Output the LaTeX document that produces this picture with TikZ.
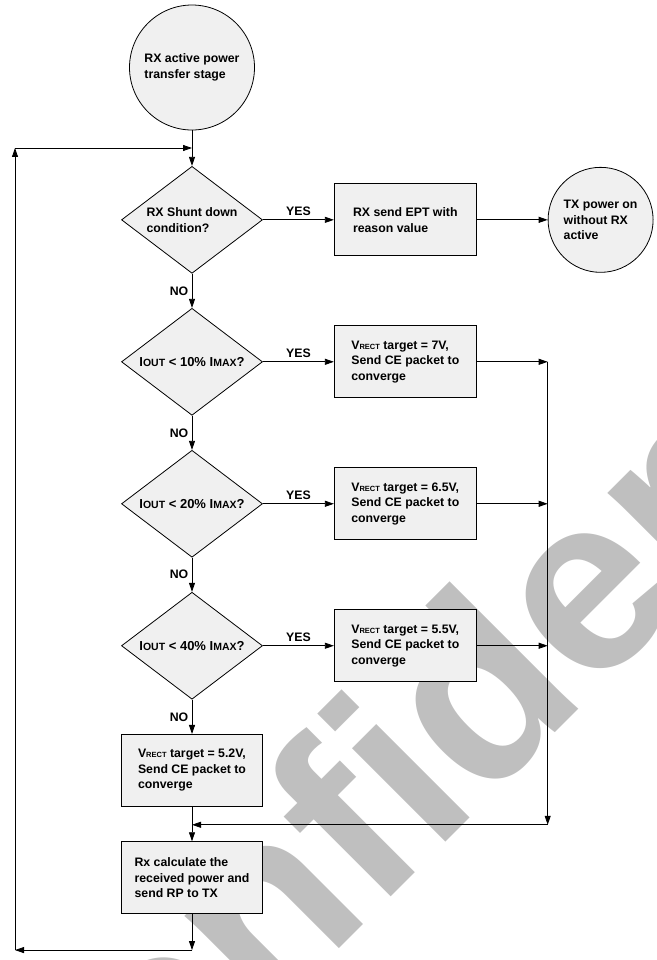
\documentclass[tikz,border=0pt]{standalone}
\usepackage{fontspec}
\setmainfont{Liberation Sans}
\usetikzlibrary{shapes.geometric,arrows.meta}
\newcommand\subcap[1]{{\fontsize{10.5}{10.5}\selectfont #1}}
\newcommand\tinycap[1]{{\fontsize{7.5}{7.5}\selectfont #1}}

\begin{document}
\begin{tikzpicture}[x=1pt, y=-1pt, line width=0.8pt, >={Triangle[length=9pt,width=6pt]},
  every node/.style={font=\bfseries\fontsize{12.3}{15.6}\selectfont},
  dec/.style={draw, fill=black!6, diamond, aspect=1.32, inner sep=0pt, minimum width=141pt, minimum height=107pt, align=left},
  cmp/.style={dec, font=\bfseries\fontsize{13}{15.6}\selectfont},
  blk/.style={draw, fill=black!6, minimum width=142pt, minimum height=72pt, inner sep=0pt, align=left},
  term/.style={draw, fill=black!6, circle, inner sep=0pt, align=left}]
\useasboundingbox (0,0) rectangle (656,960);
\begin{scope}
\clip (0,0) rectangle (656,960);
\node[rotate=45, anchor=base west, inner sep=0pt, text=black!25, font=\bfseries\fontsize{250}{250}\selectfont] (wm) at (31,1257) {Confidential};
\end{scope}
\matrix (m) [matrix anchor=start.center, row sep=34.5pt, column sep=71pt] at (192,67.5) {
  \node[term, minimum size=125pt] (start) {RX active power\\transfer stage}; & & \\[1.2pt]
  \node[dec] (d1) {RX Shunt down\\condition?}; & \node[blk] (ept) {RX send EPT with\\reason value}; & \node[term, minimum size=105pt] (txon) {TX power on\\without RX\\active}; \\
  \node[cmp] (d2) {I\subcap{OUT} < 10\% I\subcap{MAX}?}; & \node[blk] (b1) {V\tinycap{RECT} target = 7V,\\Send CE packet to\\converge}; & \\
  \node[cmp] (d3) {I\subcap{OUT} < 20\% I\subcap{MAX}?}; & \node[blk] (b2) {V\tinycap{RECT} target = 6.5V,\\Send CE packet to\\converge}; & \\
  \node[cmp] (d4) {I\subcap{OUT} < 40\% I\subcap{MAX}?}; & \node[blk] (b3) {V\tinycap{RECT} target = 5.5V,\\Send CE packet to\\converge}; & \\
  \node[blk, minimum width=141pt] (b4) {V\tinycap{RECT} target = 5.2V,\\Send CE packet to\\converge}; & & \\
  \node[blk, minimum width=141pt] (rp) {Rx calculate the\\received power and\\send RP to TX}; & & \\
};
\coordinate (r1) at (b1 -| txon.west);
\coordinate (r2) at (b2 -| txon.west);
\coordinate (r3) at (b3 -| txon.west);
\coordinate (jn) at ([yshift=-18pt]b4.south);
\coordinate (rb) at (jn -| txon.west);
\coordinate (bj) at ([yshift=-36pt]rp.south);
\coordinate (bl) at (15,0 |- bj);
\coordinate (tl) at (15,148);
\coordinate (tj) at (start |- tl);
\draw[->] (start) -- (d1);
\draw[->] (d1) -- node[above]{YES} (ept);
\draw[->] (ept) -- (txon);
\draw[->] (d1) -- node[left]{NO} (d2);
\draw[->] (d2) -- node[above]{YES} (b1);
\draw[->] (d2) -- node[left]{NO} (d3);
\draw[->] (d3) -- node[above]{YES} (b2);
\draw[->] (d3) -- node[left]{NO} (d4);
\draw[->] (d4) -- node[above]{YES} (b3);
\draw[->] (d4) -- node[left]{NO} (b4);
\draw[->] (b1) -- (r1);
\draw[->] (b2) -- (r2);
\draw[->] (b3) -- (r3);
\draw[->] (r1) -- (rb);
\draw[->] (rb) -- (jn);
\draw[->] (b4) -- (rp);
\draw[->] (rp) -- (bj);
\draw[->] (bj) -- (bl);
\draw[->] (bl) -- (tl);
\draw[->] (tl) -- (tj);
\end{tikzpicture}
\end{document}
